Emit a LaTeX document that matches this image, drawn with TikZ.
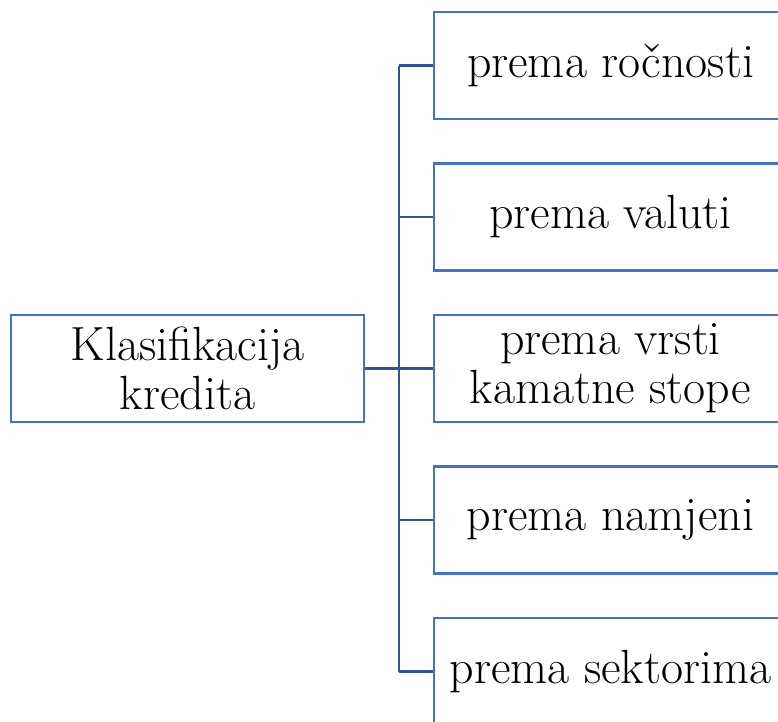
\documentclass[tikz,border=0pt]{standalone}
\usetikzlibrary{calc,positioning}

\definecolor{boxblue}{HTML}{4472C4}
\definecolor{lineblue}{HTML}{2F5597}

\begin{document}
\begin{tikzpicture}
        %限定輸出區塊
        
        \clip (0,0) rectangle (15.56,-14.42);
        
        \tikzset{
            kbox/.style={draw=boxblue, line width=0.05cm, minimum width=7.06cm, minimum height=2.14cm, inner sep=0pt, align=center, font=\rmfamily\fontsize{27.3}{27.9}\selectfont},
            kline/.style={draw=lineblue, line width=0.05cm}
        }
        
        \node[kbox] (klas) at (3.75,-7.37) {Klasifikacija\\kredita};
        
        \node[kbox] (k1) at (12.21,-1.31) {prema ročnosti};
        \node[kbox] (k2) at (12.21,-4.34) {prema valuti};
        \node[kbox] (k3) at (12.21,-7.37) {prema vrsti\\kamatne stope};
        \node[kbox] (k4) at (12.21,-10.40) {prema namjeni};
        \node[kbox] (k5) at (12.21,-13.43) {prema sektorima};
        
        \coordinate (spine) at (7.98,0);
        
        \draw[kline] (klas.east) -- (k3.west);
        \draw[kline] (spine |- k1.west) -- (spine |- k5.west);
        \foreach \v in 
        {k1,k2,k3,k4,k5}
        {
            \draw[kline] (spine |- \v.west) -- (\v.west);
        };

    \end{tikzpicture}
\end{document}
